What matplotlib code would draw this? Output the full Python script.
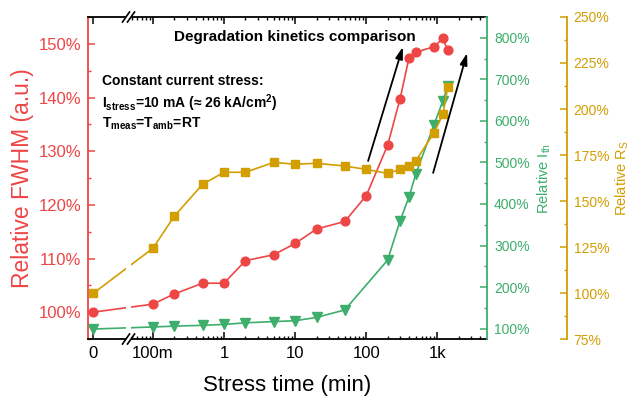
import numpy as np
import matplotlib
matplotlib.use("Agg")
import matplotlib.pyplot as plt
from matplotlib.ticker import FixedLocator, FuncFormatter
from matplotlib.patches import Rectangle
from matplotlib.lines import Line2D


plt.rcParams["font.family"] = ["Liberation Sans", "DejaVu Sans"]
plt.rcParams["mathtext.fontset"] = "custom"
plt.rcParams["mathtext.rm"] = "Liberation Sans"
plt.rcParams["mathtext.it"] = "Liberation Sans:italic"
plt.rcParams["mathtext.bf"] = "Liberation Sans:bold"


RED = "#EE4545"
GREEN = "#3DAE6B"
GOLD = "#D29E00"

# stress time in minutes (0 = unstressed reference)
time_fwhm = [0, 0.1, 0.2, 0.5, 1, 2, 5, 10, 20, 50, 100, 200, 300, 400, 500, 900, 1200, 1400]
fwhm = [100.0, 101.5, 103.4, 105.4, 105.4, 109.6, 110.7, 112.8, 115.5, 116.9, 121.7,
        131.1, 139.8, 147.4, 148.4, 149.5, 151.0, 148.8]

time_ith = [0, 0.1, 0.2, 0.5, 1, 2, 5, 10, 20, 50, 200, 300, 400, 500, 900, 1200, 1400]
ith = [99, 104, 106, 108, 110, 114, 117, 119, 127, 145, 265, 360, 417, 473, 591, 649, 683]

time_rs = [0, 0.1, 0.2, 0.5, 1, 2, 5, 10, 20, 50, 100, 200, 300, 400, 500, 900, 1200, 1400]
rs = [99.8, 124.3, 141.8, 159.1, 165.6, 165.6, 171.0, 170.0, 170.5, 169.0, 167.2,
      165.0, 167.2, 169.0, 171.9, 187.1, 197.1, 211.8]

x_ticks = [0, 0.1, 1, 10, 100, 1000]
x_tick_labels = ["0", "100m", "1", "10", "100", "1k"]

ZERO_POS = -1.84  # where t=0 sits on the broken log axis


def fwd(t):
    t = np.asarray(t, dtype=float)
    safe = np.where(t > 0, t, 1.0)
    return np.where(t > 0, np.log10(safe), ZERO_POS)


def inv(u):
    return 10.0 ** np.asarray(u, dtype=float)


fig = plt.figure(figsize=(6.31, 3.98), dpi=100)
ax = fig.add_axes([0.1395, 0.1482, 0.6323, 0.8091])
par1 = ax.twinx()
par2 = ax.twinx()
par2.spines["right"].set_position(("axes", 1.2))

ax.set_xscale("function", functions=(fwd, inv))
ax.set_xlim(10 ** -1.913, 10 ** 3.699)

ax.plot(time_fwhm, fwhm, color=RED, lw=1.2, marker="o", ms=6.3, zorder=3)
par1.plot(time_ith, ith, color=GREEN, lw=1.2, marker="v", ms=6.5, zorder=3)
par2.plot(time_rs, rs, color=GOLD, lw=1.2, marker="s", ms=6, zorder=3)

ax.set_ylim(95, 155)
par1.set_ylim(75, 850)
par2.set_ylim(75, 250)

pct = FuncFormatter(lambda v, p: f"{v:.0f}%")

ax.xaxis.set_major_locator(FixedLocator(x_ticks))
ax.set_xticklabels(x_tick_labels)
minor_x = [m * d for d in [0.01, 0.1, 1, 10, 100, 1000] for m in range(2, 10)]
minor_x = [v for v in minor_x if 0.045 < v < 4500]
ax.xaxis.set_minor_locator(FixedLocator(minor_x))
ax.tick_params(axis="x", which="both", direction="in", top=True, labelsize=12, pad=5)
ax.tick_params(axis="x", which="major", length=5, width=1.1)
ax.tick_params(axis="x", which="minor", length=2.5, width=1.0)

ax.yaxis.set_major_locator(FixedLocator(np.arange(100, 151, 10)))
ax.yaxis.set_minor_locator(FixedLocator(np.arange(95, 156, 10)))
ax.yaxis.set_major_formatter(pct)
ax.tick_params(axis="y", which="both", direction="in", colors=RED, labelsize=12, pad=5)
ax.tick_params(axis="y", which="major", length=5, width=1.1)
ax.tick_params(axis="y", which="minor", length=2.5, width=1.0)

par1.yaxis.set_major_locator(FixedLocator(np.arange(100, 801, 100)))
par1.yaxis.set_minor_locator(FixedLocator(np.arange(150, 851, 100)))
par1.yaxis.set_major_formatter(pct)
par1.tick_params(axis="y", which="both", direction="in", colors=GREEN, labelsize=10, pad=5)
par1.tick_params(axis="y", which="major", length=5, width=1.1)
par1.tick_params(axis="y", which="minor", length=2.5, width=1.0)

par2.yaxis.set_major_locator(FixedLocator(np.arange(75, 251, 25)))
par2.yaxis.set_minor_locator(FixedLocator(np.arange(87.5, 251, 25)))
par2.yaxis.set_major_formatter(pct)
par2.tick_params(axis="y", which="both", direction="in", colors=GOLD, labelsize=10, pad=5)
par2.tick_params(axis="y", which="major", length=5, width=1.1)
par2.tick_params(axis="y", which="minor", length=2.5, width=1.0)

for s in ["top", "bottom"]:
    ax.spines[s].set_linewidth(1.3)
ax.spines["left"].set_color(RED)
ax.spines["left"].set_linewidth(1.3)
ax.spines["right"].set_visible(False)
for p in [par1, par2]:
    for s in ["left", "top", "bottom"]:
        p.spines[s].set_visible(False)
par1.spines["right"].set_color(GREEN)
par1.spines["right"].set_linewidth(1.3)
par2.spines["right"].set_color(GOLD)
par2.spines["right"].set_linewidth(1.3)

ax.set_xlabel("Stress time (min)", fontsize=16)
ax.xaxis.set_label_coords(0.5, -0.112)
ax.set_ylabel("Relative FWHM (a.u.)", fontsize=16.5, color=RED)
ax.yaxis.set_label_coords(-0.135, 0.5)
par1.set_ylabel(r"Relative I$_{\rm th}$", fontsize=10.5, color=GREEN, rotation=90, va="bottom")
par1.yaxis.set_label_coords(1.165, 0.5)
par2.set_ylabel(r"Relative R$_{\rm S}$", fontsize=10.5, color=GOLD, rotation=90, va="bottom")
par2.yaxis.set_label_coords(1.36, 0.5)

# axis break
x1, x2 = 0.0952, 0.1078
par2.add_patch(Rectangle((x1, -0.02), x2 - x1, 1.04, transform=ax.transAxes,
                         facecolor="white", edgecolor="none", clip_on=False, zorder=10))
dx, dy = 0.0088, 0.0155
for xb in [x1, x2]:
    for yb in [0, 1]:
        par2.add_line(Line2D([xb - dx, xb + dx], [yb - dy, yb + dy], transform=ax.transAxes,
                             color="black", lw=1.2, clip_on=False, zorder=11))

par2.text(0.519, 0.938, "Degradation kinetics comparison", transform=ax.transAxes,
          ha="center", va="center", fontsize=11, fontweight="bold", zorder=12)
par2.text(0.035, 0.801, "Constant current stress:", transform=ax.transAxes,
          ha="left", va="center", fontsize=10, fontweight="bold", zorder=12)
par2.text(0.035, 0.733, r"$\mathbf{I_{stress}}$=10 mA (≈ 26 kA/cm$\mathbf{^2}$)",
          transform=ax.transAxes, ha="left", va="center", fontsize=10, fontweight="bold",
          zorder=12)
par2.text(0.035, 0.668, r"$\mathbf{T_{meas}}$=$\mathbf{T_{amb}}$=RT",
          transform=ax.transAxes, ha="left", va="center", fontsize=10, fontweight="bold",
          zorder=12)

arrow = dict(arrowstyle="-|>,head_length=0.7,head_width=0.22", color="black", lw=1.3,
             shrinkA=0, shrinkB=0)
par2.annotate("", xy=(0.789, 0.907), xytext=(0.702, 0.553), xycoords=ax.transAxes,
              textcoords=ax.transAxes, arrowprops=arrow)
par2.annotate("", xy=(0.950, 0.888), xytext=(0.865, 0.516), xycoords=ax.transAxes,
              textcoords=ax.transAxes, arrowprops=arrow)

fig.savefig("out.png", dpi=100)
